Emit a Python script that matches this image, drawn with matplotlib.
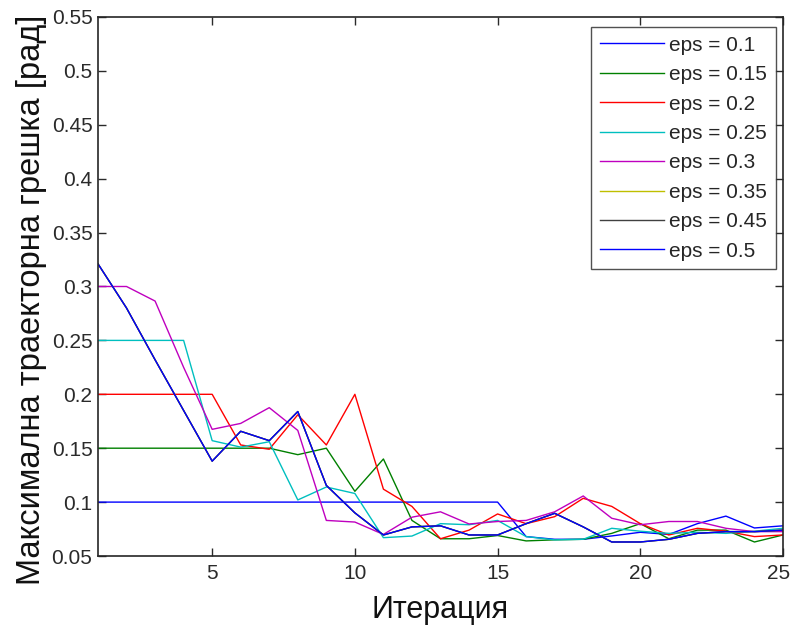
import matplotlib
matplotlib.use("Agg")
import matplotlib.pyplot as plt
import matplotlib.transforms as mtransforms

iterations = list(range(1, 26))

eps_labels = ["eps = 0.1", "eps = 0.15", "eps = 0.2", "eps = 0.25", "eps = 0.3",
              "eps = 0.35", "eps = 0.45", "eps = 0.5"]

err_01 = [0.1, 0.1, 0.1, 0.1, 0.1, 0.1, 0.1, 0.1, 0.1, 0.1, 0.1, 0.1, 0.1, 0.1, 0.1,
          0.068, 0.0655, 0.0655, 0.0686, 0.072, 0.070, 0.080, 0.087, 0.076, 0.078]
err_015 = [0.15, 0.15, 0.15, 0.15, 0.15, 0.15, 0.15, 0.144, 0.15, 0.11, 0.14, 0.083,
           0.066, 0.066, 0.069, 0.064, 0.065, 0.0655, 0.071, 0.080, 0.066, 0.074,
           0.074, 0.063, 0.0695]
err_02 = [0.2, 0.2, 0.2, 0.2, 0.2, 0.153, 0.149, 0.181, 0.153, 0.2, 0.112, 0.096,
          0.066, 0.074, 0.089, 0.080, 0.0865, 0.1035, 0.096, 0.080, 0.0695, 0.0757,
          0.073, 0.068, 0.0695]
err_025 = [0.25, 0.25, 0.25, 0.25, 0.157, 0.151, 0.156, 0.102, 0.114, 0.108, 0.067,
           0.0685, 0.080, 0.079, 0.083, 0.068, 0.065, 0.0655, 0.0757, 0.073, 0.071,
           0.072, 0.071, 0.073, 0.0757]
err_03 = [0.3, 0.3, 0.2865, 0.225, 0.1675, 0.173, 0.1876, 0.1665, 0.083, 0.0815,
          0.0700, 0.0860, 0.091, 0.0797, 0.082, 0.083, 0.091, 0.1057, 0.085, 0.079,
          0.082, 0.082, 0.0757, 0.0726, 0.0726]
err_035 = [0.321, 0.28, 0.232, 0.185, 0.138, 0.1657, 0.157, 0.184, 0.1155, 0.09,
           0.0695, 0.077, 0.078, 0.0695, 0.0695, 0.080, 0.0896, 0.077, 0.063, 0.063,
           0.0655, 0.071, 0.0726, 0.0726, 0.074]
err_045 = [0.321, 0.28, 0.232, 0.185, 0.138, 0.1657, 0.157, 0.184, 0.1155, 0.09,
           0.0695, 0.077, 0.078, 0.0695, 0.0695, 0.080, 0.0896, 0.077, 0.063, 0.063,
           0.0655, 0.071, 0.0726, 0.0726, 0.074]
err_05 = [0.321, 0.28, 0.232, 0.185, 0.138, 0.1657, 0.157, 0.184, 0.1155, 0.09,
          0.0695, 0.077, 0.078, 0.0695, 0.0695, 0.080, 0.0896, 0.077, 0.063, 0.063,
          0.0655, 0.071, 0.0726, 0.0726, 0.074]

series = [err_01, err_015, err_02, err_025, err_03, err_035, err_045, err_05]
colors = ["#0000ff", "#008000", "#ff0000", "#00bfbf", "#bf00bf", "#bfbf00",
          "#404040", "#0000ff"]

x_ticks = [5, 10, 15, 20, 25]
y_ticks = [0.05, 0.1, 0.15, 0.2, 0.25, 0.3, 0.35, 0.4, 0.45, 0.5, 0.55]
y_ticklabels = ["0.05", "0.1", "0.15", "0.2", "0.25", "0.3", "0.35", "0.4",
                "0.45", "0.5", "0.55"]

plt.rcParams["font.family"] = ["Liberation Sans", "DejaVu Sans"]

fig = plt.figure(figsize=(7.93, 6.25), dpi=100)
ax = fig.add_axes([98 / 793, 69 / 625, 685 / 793, 539 / 625])

for vals, col, lab in zip(series, colors, eps_labels):
    ax.plot(iterations, vals, color=col, linewidth=1.0, label=lab)

ax.set_xlim(1, 25)
ax.set_ylim(0.05, 0.55)
ax.set_xticks(x_ticks)
ax.set_yticks(y_ticks)
ax.set_yticklabels(y_ticklabels)
ax.tick_params(direction="in", top=True, right=True, length=6, width=1,
               labelsize=15, colors="#2a2a2a", pad=4)
ax.tick_params(axis="x", pad=5.5)
for sp in ax.spines.values():
    sp.set_color("#262626")
    sp.set_linewidth(1.2)

# nudge the last x tick label slightly left so it stays inside the figure
last = ax.get_xticklabels()[-1]
last.set_transform(last.get_transform() +
                   mtransforms.ScaledTranslation(-4 / 100, 0, fig.dpi_scale_trans))

ax.set_xlabel("Итерация", fontsize=22, color="#111111", labelpad=9)
ax.set_ylabel("Максимална траекторна грешка [рад]", fontsize=23.5, color="#111111")
ax.yaxis.set_label_coords(-0.075, 0.475)

leg = ax.legend(loc="upper right", fontsize=15, frameon=True, fancybox=False,
                edgecolor="#262626", handlelength=3.07, handletextpad=0.28,
                labelspacing=0.5, borderpad=0.42, borderaxespad=0)
leg.set_bbox_to_anchor((776 / 793, (625 - 27) / 625), transform=fig.transFigure)
leg.get_frame().set_linewidth(1.0)
for t in leg.get_texts():
    t.set_color("#262626")

fig.savefig("out.png", dpi=100, facecolor="white")
